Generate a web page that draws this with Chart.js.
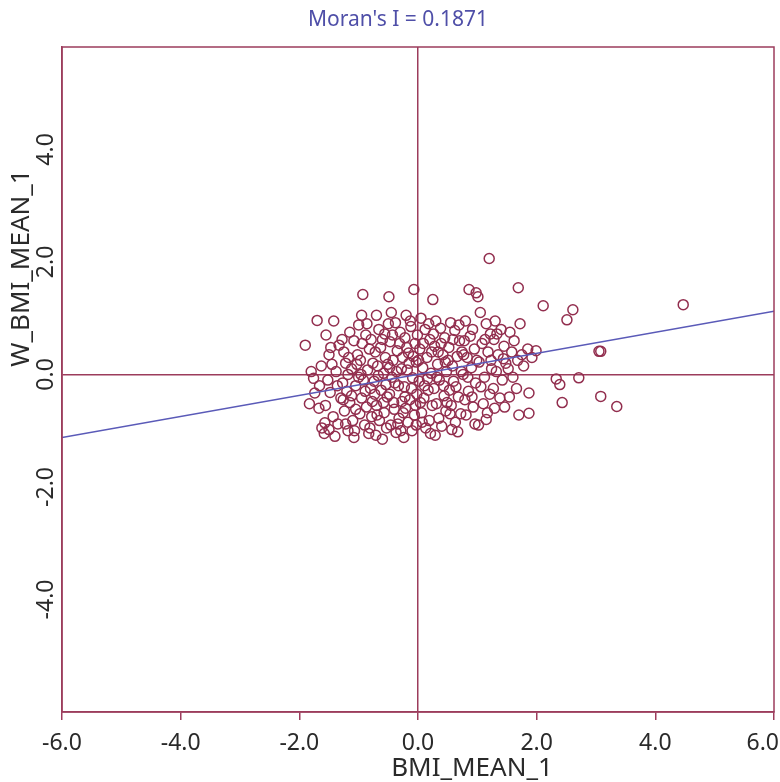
<!DOCTYPE html>
<html>
<head>
<meta charset="utf-8">
<script src="https://cdn.jsdelivr.net/npm/chart.js@4.4.1/dist/chart.umd.min.js"></script>
<style>
  body { margin: 0; background: #fff; }
  #wrap { width: 780px; height: 782px; }
</style>
</head>
<body>
<div id="wrap"><canvas id="moranChart"></canvas></div>
<script>
// Moran scatter plot: BMI_MEAN_1 vs its spatial lag
var moranI = 0.1871;
var xTicks = [-6, -4, -2, 0, 2, 4, 6];
var yTickLabels = [-4, -2, 0, 2, 4];
var lineX = [-6, 6];

// [BMI_MEAN_1, W_BMI_MEAN_1]
var bmiPoints = [
  [-1.90, 0.52], [-1.70, 0.96], [-1.80, 0.05], [-1.76, -0.07], [-1.83, -0.52], [-1.74, -0.33],
  [-1.66, -0.20], [-1.63, 0.15], [-1.67, -0.60], [-1.62, -0.95], [-1.58, -1.05],
  [-1.55, 0.70], [-1.50, 0.35], [-1.45, 0.18], [-1.52, -0.10], [-1.48, -0.32], [-1.56, -0.55],
  [-1.43, -0.75], [-1.50, -0.98], [-1.40, -1.10], [-1.35, -0.88], [-1.38, 0.05], [-1.42, 0.95],
  [-1.33, 0.52], [-1.30, -0.42], [-1.36, -0.20], [-1.47, 0.48], [-1.57, -0.86],
  [-1.25, 0.40], [-1.22, 0.20], [-1.18, 0.00], [-1.27, -0.15], [-1.20, -0.30], [-1.15, -0.50],
  [-1.24, -0.65], [-1.10, -0.82], [-1.18, -1.00], [-1.08, -1.12], [-1.05, -0.20], [-1.12, 0.10],
  [-1.02, 0.35], [-1.08, 0.60], [-1.15, 0.75], [-1.00, 0.88], [-1.22, -0.88], [-1.05, -0.62],
  [-1.12, -0.38], [-1.00, -0.05], [-1.28, 0.62], [-1.03, 0.18], [-1.17, 0.30], [-1.26, -0.45],
  [-1.07, -1.00],
  [-0.93, 1.42], [-0.95, 1.05], [-0.88, 0.70], [-0.82, 0.45], [-0.97, 0.25], [-0.85, 0.08],
  [-0.92, -0.10], [-0.80, -0.25], [-0.95, -0.42], [-0.87, -0.58], [-0.78, -0.75], [-0.90, -0.90],
  [-0.83, -1.05], [-0.98, -0.70], [-0.76, 0.20], [-0.79, 0.62], [-0.86, 0.90], [-0.94, 0.55],
  [-0.77, -0.48], [-0.89, -0.30], [-0.96, 0.00], [-0.81, -0.95],
  [-0.70, 1.05], [-0.66, 0.80], [-0.60, 0.62], [-0.72, 0.40], [-0.55, 0.30], [-0.68, 0.15],
  [-0.58, 0.02], [-0.74, -0.12], [-0.62, -0.28], [-0.52, -0.40], [-0.70, -0.55], [-0.57, -0.68],
  [-0.65, -0.82], [-0.53, -0.95], [-0.71, -1.08], [-0.60, -1.15], [-0.50, 0.90], [-0.63, 0.48],
  [-0.54, -0.18], [-0.73, -0.35], [-0.56, 0.72], [-0.67, -0.02], [-0.51, 0.18], [-0.69, -0.72],
  [-0.58, -0.50],
  [-0.49, 1.38], [-0.45, 1.10], [-0.38, 0.92], [-0.30, 0.75], [-0.47, 0.58], [-0.35, 0.42],
  [-0.42, 0.25], [-0.28, 0.10], [-0.44, -0.05], [-0.33, -0.20], [-0.48, -0.35], [-0.27, -0.48],
  [-0.40, -0.62], [-0.32, -0.78], [-0.46, -0.90], [-0.37, -1.03], [-0.29, -1.00], [-0.43, 0.70],
  [-0.26, 0.30], [-0.36, 0.05], [-0.41, -0.50], [-0.25, -0.68], [-0.31, 0.55], [-0.48, 0.12],
  [-0.39, -0.15], [-0.34, -0.88],
  [-0.07, 1.51], [-0.20, 1.05], [-0.12, 0.85], [-0.22, 0.65], [-0.05, 0.55], [-0.16, 0.38],
  [-0.03, 0.22], [-0.18, 0.08], [-0.09, -0.06], [-0.23, -0.22], [-0.02, -0.35], [-0.14, -0.45],
  [-0.21, -0.60], [-0.06, -0.72], [-0.17, -0.85], [-0.10, -1.00], [-0.24, -1.12], [-0.15, 0.20],
  [-0.01, 0.70], [-0.11, -0.25], [-0.19, 0.48], [-0.04, -0.55], [-0.13, 0.95], [-0.08, 0.32],
  [-0.22, -0.40], [-0.03, -0.90],
  [0.25, 1.33], [0.05, 1.00], [0.12, 0.80], [0.20, 0.62], [0.03, 0.45], [0.15, 0.30],
  [0.08, 0.12], [0.22, 0.02], [0.02, -0.12], [0.17, -0.28], [0.10, -0.42], [0.24, -0.55],
  [0.06, -0.68], [0.19, -0.82], [0.13, -0.95], [0.21, -1.05], [0.09, 0.55], [0.01, 0.25],
  [0.16, -0.08], [0.23, 0.40], [0.04, -0.50], [0.18, 0.90], [0.11, -0.20], [0.07, -0.85],
  [0.30, 0.95], [0.38, 0.82], [0.45, 0.65], [0.28, 0.50], [0.42, 0.35], [0.33, 0.18],
  [0.48, 0.05], [0.36, -0.10], [0.27, -0.25], [0.44, -0.38], [0.31, -0.52], [0.47, -0.65],
  [0.35, -0.78], [0.40, -0.92], [0.29, -1.08], [0.46, 0.22], [0.39, 0.55], [0.26, 0.72],
  [0.43, -0.20], [0.34, 0.40], [0.49, -0.50], [0.32, -0.05],
  [0.55, 0.92], [0.62, 0.78], [0.70, 0.60], [0.52, 0.48], [0.66, 0.32], [0.58, 0.15],
  [0.73, 0.05], [0.60, -0.12], [0.53, -0.28], [0.68, -0.40], [0.56, -0.55], [0.72, -0.70],
  [0.63, -0.85], [0.57, -0.98], [0.69, 0.88], [0.51, 0.25], [0.64, -0.22], [0.74, 0.40],
  [0.59, 0.62], [0.67, -1.02], [0.54, -0.70],
  [0.86, 1.51], [0.98, 1.45], [0.80, 0.95], [0.92, 0.80], [0.78, 0.60], [0.95, 0.45],
  [0.83, 0.30], [0.90, 0.12], [0.76, 0.00], [0.97, -0.15], [0.85, -0.30], [0.79, -0.45],
  [0.93, -0.58], [0.81, -0.72], [0.96, -0.88], [0.88, 0.68], [0.77, 0.35], [0.99, 0.25],
  [0.84, -0.05], [0.91, -0.40],
  [1.01, 1.38], [1.20, 2.06], [1.05, 1.10], [1.15, 0.90], [1.22, 0.72], [1.08, 0.55],
  [1.18, 0.40], [1.03, 0.22], [1.24, 0.10], [1.12, -0.05], [1.06, -0.22], [1.21, -0.35],
  [1.10, -0.52], [1.17, -0.68], [1.15, -0.80], [1.02, -0.90], [1.13, 0.62], [1.23, 0.25],
  [1.30, 0.95], [1.40, 0.80], [1.28, 0.62], [1.45, 0.50], [1.35, 0.35], [1.48, 0.20],
  [1.32, 0.05], [1.42, -0.10], [1.27, -0.25], [1.38, -0.42], [1.46, -0.58], [1.33, 0.72],
  [1.44, 0.28], [1.29, -0.60],
  [1.69, 1.54], [1.55, 0.75], [1.62, 0.60], [1.72, 0.90], [1.58, 0.40], [1.68, 0.25],
  [1.52, 0.10], [1.75, 0.35], [1.60, -0.05], [1.66, -0.25], [1.78, 0.15], [1.54, -0.40],
  [1.70, -0.72],
  [1.87, -0.33], [1.87, -0.69], [1.99, 0.42], [1.85, 0.45], [1.92, 0.30], [2.11, 1.22],
  [2.33, -0.08], [2.39, -0.18], [2.43, -0.50], [2.51, 0.97], [2.61, 1.15], [2.71, -0.06],
  [3.05, 0.41], [3.08, 0.41], [3.08, -0.39], [3.35, -0.57], [4.47, 1.24]
];

var frameColor = '#9c3c5c';
var pointColor = '#922e4e';
var lineColor = '#5a5ab8';
var textColor = '#2a2a2a';
var fontFamily = '"Noto Sans", "Open Sans", sans-serif';

var framePlugin = {
  id: 'frame',
  afterDraw: function(chart) {
    var ctx = chart.ctx, a = chart.chartArea, yScale = chart.scales.y;
    ctx.save();
    ctx.strokeStyle = frameColor;
    ctx.lineWidth = 1.5;
    ctx.strokeRect(a.left, a.top, a.right - a.left, a.bottom - a.top);

    ctx.textAlign = 'center';
    ctx.textBaseline = 'middle';

    // title
    ctx.fillStyle = '#4f4fa8';
    ctx.font = '21px ' + fontFamily;
    ctx.fillText("Moran's I = 0.1871", 398, 20);

    // rotated y tick labels
    ctx.fillStyle = textColor;
    ctx.font = '23px ' + fontFamily;
    yTickLabels.forEach(function(v) {
      ctx.save();
      ctx.translate(46, yScale.getPixelForValue(v));
      ctx.rotate(-Math.PI / 2);
      ctx.fillText(v.toFixed(1), 0, 0);
      ctx.restore();
    });

    // last x label sits against the right edge instead of being cut
    ctx.textAlign = 'right';
    ctx.fillText(xTicks[xTicks.length - 1].toFixed(1), 779, 743);
    ctx.textAlign = 'center';

    // axis titles
    ctx.font = '26px ' + fontFamily;
    ctx.save();
    ctx.translate(22, 268);
    ctx.rotate(-Math.PI / 2);
    ctx.fillText('W_BMI_MEAN_1', 0, 0);
    ctx.restore();
    ctx.fillText('BMI_MEAN_1', 472, 769);
    ctx.restore();
  }
};

function zeroOnly(c) {
  return c.tick && c.tick.value === 0 ? frameColor : 'rgba(0,0,0,0)';
}

var ctx = document.getElementById('moranChart');
var moranChart = new Chart(ctx, {
  type: 'scatter',
  data: {
    datasets: [{
      label: 'regression',
      type: 'line',
      data: lineX.map(function(x) { return { x: x, y: moranI * x }; }),
      borderColor: lineColor,
      borderWidth: 1.5,
      pointRadius: 0,
      fill: false,
      order: 0
    }, {
      label: 'BMI',
      data: bmiPoints.map(function(p) { return { x: p[0], y: p[1] }; }),
      pointStyle: 'circle',
      pointRadius: 5,
      borderWidth: 1.5,
      borderColor: pointColor,
      backgroundColor: 'rgba(255,255,255,0)',
      order: 1
    }]
  },
  options: {
    responsive: true,
    maintainAspectRatio: false,
    animation: false,
    layout: { padding: { left: 0, right: 6, top: 47, bottom: 0 }, autoPadding: false },
    plugins: {
      legend: { display: false },
      tooltip: { enabled: false },
      title: { display: false }
    },
    scales: {
      x: {
        type: 'linear',
        min: -6,
        max: 6,
        afterBuildTicks: function(scale) {
          scale.ticks = xTicks.map(function(v) { return { value: v }; });
        },
        afterFit: function(scale) {
          scale.height = 70;
          scale.paddingLeft = 0;
          scale.paddingRight = 0;
        },
        border: { display: true, color: frameColor, width: 1.5 },
        grid: { color: zeroOnly, tickColor: frameColor, tickLength: 8, lineWidth: 1.5 },
        ticks: {
          color: textColor,
          padding: 10,
          maxRotation: 0,
          font: { family: fontFamily, size: 23 },
          callback: function(v) { return v === 6 ? '' : v.toFixed(1); }
        }
      },
      y: {
        type: 'linear',
        min: -6,
        max: 5.82,
        afterBuildTicks: function(scale) {
          scale.ticks = xTicks.slice(0, 6).map(function(v) { return { value: v }; });
        },
        afterFit: function(scale) {
          scale.width = 62;
          scale.paddingTop = 0;
          scale.paddingBottom = 0;
        },
        border: { display: true, color: frameColor, width: 1.5 },
        grid: { color: zeroOnly, drawTicks: false, lineWidth: 1.5 },
        ticks: { display: false }
      }
    }
  },
  plugins: [framePlugin]
});
</script>
</body>
</html>
